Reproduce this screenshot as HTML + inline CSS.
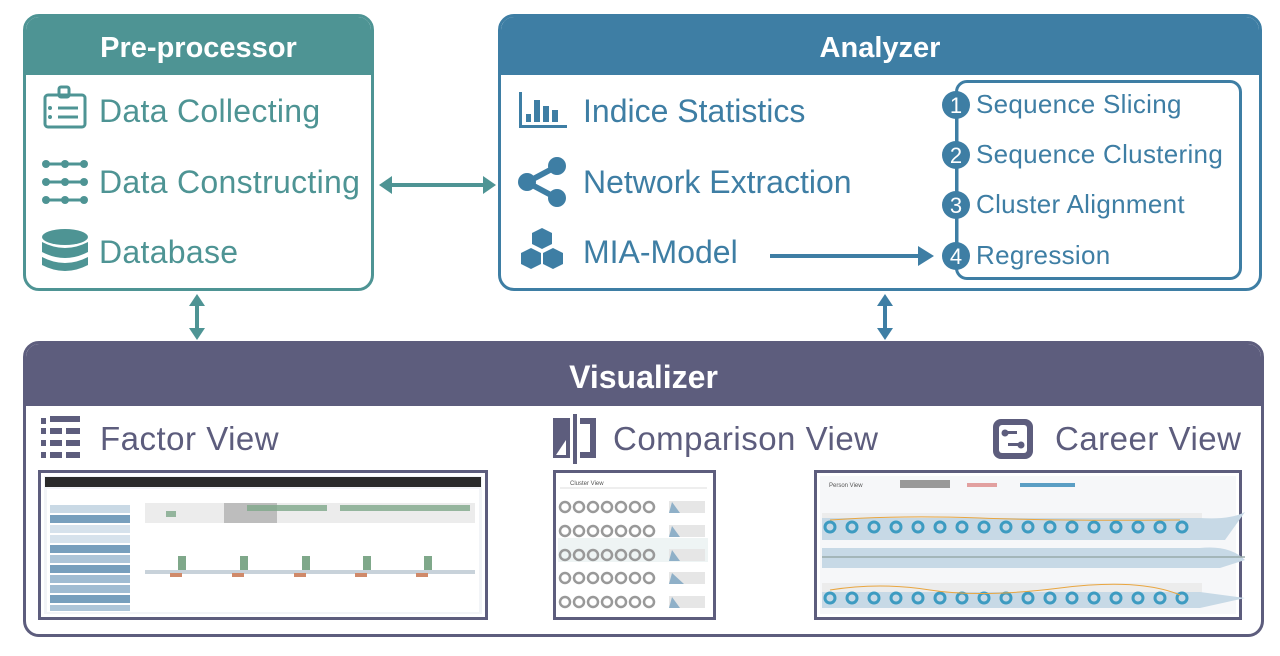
<!DOCTYPE html>
<html><head><meta charset="utf-8"><style>
body{margin:0;width:1280px;height:656px;background:#fff;position:relative;overflow:hidden;font-family:"Liberation Sans",sans-serif}
.box{position:absolute;border:3px solid;border-radius:16px;box-sizing:border-box;overflow:hidden;background:#fff}
.hd{position:absolute;left:0;right:0;top:0;color:#fff;font-weight:bold;text-align:center}
.t{position:absolute;white-space:nowrap}
</style></head><body>

<div class="box" style="left:23px;top:14px;width:351px;height:277px;border-color:#4e9494">
 <div class="hd" style="height:58px;background:#4e9494;font-size:29px;line-height:62px">Pre-processor</div>
</div>
<div class="box" style="left:498px;top:14px;width:764px;height:277px;border-color:#3e7ea4">
 <div class="hd" style="height:58px;background:#3e7ea4;font-size:29px;line-height:62px">Analyzer</div>
</div>
<div style="position:absolute;left:955px;top:80px;width:287px;height:200px;border:3px solid #3e7ea4;border-radius:12px;box-sizing:border-box"></div>
<div class="box" style="left:23px;top:341px;width:1241px;height:296px;border-color:#5d5d7d">
 <div class="hd" style="height:62px;background:#5d5d7d;font-size:32px;line-height:66px">Visualizer</div>
</div>

<div class="t" style="left:99px;top:93px;font-size:32px;color:#4e9494;letter-spacing:0.3px">Data Collecting</div>
<div class="t" style="left:99px;top:164px;font-size:32px;color:#4e9494;letter-spacing:0.3px">Data Constructing</div>
<div class="t" style="left:99px;top:234px;font-size:32px;color:#4e9494;letter-spacing:0.3px">Database</div>

<div class="t" style="left:583px;top:93px;font-size:32px;color:#3e7ea4">Indice Statistics</div>
<div class="t" style="left:583px;top:164px;font-size:32px;color:#3e7ea4">Network Extraction</div>
<div class="t" style="left:583px;top:234px;font-size:32px;color:#3e7ea4">MIA-Model</div>

<div class="t" style="left:976px;top:89px;font-size:26px;color:#3e7ea4;letter-spacing:0.3px">Sequence Slicing</div>
<div class="t" style="left:976px;top:139px;font-size:26px;color:#3e7ea4;letter-spacing:0.3px">Sequence Clustering</div>
<div class="t" style="left:976px;top:189px;font-size:26px;color:#3e7ea4;letter-spacing:0.3px">Cluster Alignment</div>
<div class="t" style="left:976px;top:240px;font-size:26px;color:#3e7ea4;letter-spacing:0.3px">Regression</div>

<div class="t" style="left:100px;top:420px;font-size:33px;color:#5d5d7d;letter-spacing:0.5px">Factor View</div>
<div class="t" style="left:613px;top:420px;font-size:33px;color:#5d5d7d;letter-spacing:0.5px">Comparison View</div>
<div class="t" style="left:1055px;top:420px;font-size:33px;color:#5d5d7d;letter-spacing:0.5px">Career View</div>

<svg width="1280" height="656" style="position:absolute;left:0;top:0" xmlns="http://www.w3.org/2000/svg">
 <g stroke="#4e9494" stroke-width="4" fill="#4e9494">
  <line x1="386" y1="185" x2="488" y2="185"/>
  <path d="M379 185 L392 176 L392 194Z" stroke="none"/><path d="M496 185 L483 176 L483 194Z" stroke="none"/>
  <line x1="197" y1="302" x2="197" y2="331"/>
  <path d="M197 294 L189 306 L205 306Z" stroke="none"/><path d="M197 340 L189 328 L205 328Z" stroke="none"/>
 </g>
 <g stroke="#3e7ea4" stroke-width="4" fill="#3e7ea4">
  <line x1="885" y1="302" x2="885" y2="331"/>
  <path d="M885 294 L877 306 L893 306Z" stroke="none"/><path d="M885 340 L877 328 L893 328Z" stroke="none"/>
  <line x1="770" y1="256" x2="920" y2="256"/>
  <path d="M934 256 L918 246 L918 266Z" stroke="none"/>
  <line x1="957" y1="105" x2="957" y2="256" stroke-width="3"/>
 </g>
 <g fill="#3e7ea4">
  <circle cx="956" cy="105" r="14"/><circle cx="956" cy="155" r="14"/><circle cx="956" cy="205" r="14"/><circle cx="956" cy="256" r="14"/>
 </g>
 <g fill="#fff" font-family="Liberation Sans" font-size="22" text-anchor="middle">
  <text x="956" y="113">1</text><text x="956" y="163">2</text><text x="956" y="213">3</text><text x="956" y="264">4</text>
 </g>
 <g stroke="#4e9494" stroke-width="3" fill="none">
  <rect x="45" y="95" width="40" height="32" rx="3"/>
  <rect x="59" y="87" width="10" height="10" rx="2"/>
  <line x1="58" y1="108" x2="78" y2="108"/><line x1="58" y1="117" x2="78" y2="117"/>
  <line x1="44" y1="164" x2="86" y2="164"/><line x1="44" y1="182" x2="86" y2="182"/><line x1="44" y1="200" x2="86" y2="200"/>
 </g>
 <g fill="#4e9494">
  <circle cx="50" cy="108" r="2"/><circle cx="50" cy="117" r="2"/>
  <circle cx="46" cy="164" r="4"/><circle cx="65" cy="164" r="4"/><circle cx="84" cy="164" r="4"/>
  <circle cx="46" cy="182" r="4"/><circle cx="65" cy="182" r="4"/><circle cx="84" cy="182" r="4"/>
  <circle cx="46" cy="200" r="4"/><circle cx="65" cy="200" r="4"/><circle cx="84" cy="200" r="4"/>
  <ellipse cx="65" cy="237" rx="23" ry="8"/>
  <path d="M42 242 Q65 254 88 242 L88 252 Q65 264 42 252Z"/>
  <path d="M42 257 Q65 269 88 257 L88 265 Q65 277 42 265Z"/>
 </g>
 <g fill="#3e7ea4">
  <rect x="519" y="92" width="3" height="36"/><rect x="519" y="125" width="48" height="3"/>
  <rect x="526" y="114" width="5" height="8"/><rect x="534" y="100" width="6" height="22"/><rect x="543" y="106" width="6" height="16"/><rect x="552" y="110" width="6" height="12"/>
  <circle cx="557" cy="166" r="9"/><circle cx="527" cy="182" r="9"/><circle cx="557" cy="198" r="9"/>
  <path d="M527 179 L557 163 L558 169 L528 185Z M527 179 L557 195 L556 201 L526 185Z"/>
  <path d="M542 228 L552 233 L552 244 L542 249 L532 244 L532 233Z"/>
  <path d="M531 248 L541 253 L541 264 L531 269 L521 264 L521 253Z"/>
  <path d="M553 248 L563 253 L563 264 L553 269 L543 264 L543 253Z"/>
 </g>
 <g fill="#5d5d7d">
  <rect x="41" y="418" width="5" height="6"/><rect x="50" y="416" width="30" height="6"/>
  <rect x="41" y="428" width="5" height="6"/><rect x="50" y="428" width="12" height="6"/><rect x="66" y="428" width="14" height="6"/>
  <rect x="41" y="440" width="5" height="6"/><rect x="50" y="440" width="12" height="6"/><rect x="66" y="440" width="14" height="6"/>
  <rect x="41" y="452" width="5" height="6"/><rect x="50" y="452" width="12" height="6"/><rect x="66" y="452" width="14" height="6"/>
  <path d="M553 418 L570 418 L570 458 L553 458Z"/>
  <path d="M573 414 L577 414 L577 464 L573 464Z"/>
  <path d="M580 418 L596 418 L596 458 L580 458 L580 452 L590 452 L590 424 L580 424Z"/>
  <path d="M556 455 L566 440 L566 455Z" fill="#fff"/>
  <rect x="993" y="419" width="40" height="40" rx="8"/>
  <rect x="999" y="425" width="28" height="28" rx="3" fill="#fff"/>
  <circle cx="1005" cy="433" r="3.5"/><circle cx="1021" cy="445" r="3.5"/>
  <rect x="1005" y="431" width="12" height="3"/><rect x="1008" y="443" width="13" height="3"/>
 </g>

 <rect x="39.5" y="471.5" width="447" height="147" fill="#fff" stroke="#5d5d7d" stroke-width="3"/>
 <rect x="44" y="476" width="438" height="138" fill="#f2f4f7"/>
 <rect x="45" y="477" width="436" height="10" fill="#2a2a2a"/>
 <rect x="47" y="489" width="432" height="123" fill="#fff"/>
 <g fill="#4a7fa8" opacity="0.75">
  <rect x="50" y="505" width="80" height="8" opacity=".4"/><rect x="50" y="515" width="80" height="8"/>
  <rect x="50" y="525" width="80" height="8" opacity=".3"/><rect x="50" y="535" width="80" height="8" opacity=".3"/>
  <rect x="50" y="545" width="80" height="8"/><rect x="50" y="555" width="80" height="8" opacity=".6"/>
  <rect x="50" y="565" width="80" height="8"/><rect x="50" y="575" width="80" height="8" opacity=".7"/>
  <rect x="50" y="585" width="80" height="8" opacity=".7"/><rect x="50" y="595" width="80" height="8"/>
  <rect x="50" y="605" width="80" height="6" opacity=".6"/>
 </g>
 <rect x="145" y="503" width="330" height="20" fill="#ececec"/>
 <rect x="224" y="503" width="53" height="20" fill="#bdbdbd"/>
 <g fill="#7fa88a" opacity=".8">
  <rect x="247" y="505" width="80" height="6"/><rect x="340" y="505" width="130" height="6"/><rect x="166" y="511" width="10" height="6"/>
 </g>
 <rect x="145" y="570" width="330" height="4" fill="#c8d2da"/>
 <g fill="#7fa88a"><rect x="178" y="556" width="8" height="14"/><rect x="240" y="556" width="8" height="14"/><rect x="302" y="556" width="8" height="14"/><rect x="363" y="556" width="8" height="14"/><rect x="424" y="556" width="8" height="14"/></g>
 <g fill="#d08a6a"><rect x="170" y="573" width="12" height="4"/><rect x="232" y="573" width="12" height="4"/><rect x="294" y="573" width="12" height="4"/><rect x="355" y="573" width="12" height="4"/><rect x="416" y="573" width="12" height="4"/></g>

 <rect x="554.5" y="471.5" width="160" height="147" fill="#fff" stroke="#5d5d7d" stroke-width="3"/>
 <line x1="560" y1="488" x2="707" y2="488" stroke="#ddd"/>
 <text x="570" y="485" font-size="6" fill="#555">Cluster View</text>
 <rect x="558" y="538" width="150" height="24" fill="#eef4f4"/>
 <g fill="none" stroke="#999" stroke-width="2.5">
  <g id="row"><circle cx="565" cy="507" r="5"/><circle cx="579" cy="507" r="5"/><circle cx="593" cy="507" r="5"/><circle cx="607" cy="507" r="5"/><circle cx="621" cy="507" r="5"/><circle cx="635" cy="507" r="5"/><circle cx="649" cy="507" r="5"/></g>
  <use href="#row" y="24"/><use href="#row" y="48"/><use href="#row" y="71"/><use href="#row" y="95"/>
 </g>
 <g fill="#e6e6e6"><rect x="669" y="501" width="36" height="12"/><rect x="669" y="525" width="36" height="12"/><rect x="669" y="549" width="36" height="12"/><rect x="669" y="572" width="36" height="12"/><rect x="669" y="596" width="36" height="12"/></g>
 <g fill="#8fb0c8"><path d="M669 513 L672 502 L680 513Z"/><path d="M669 537 L672 526 L680 537Z"/><path d="M669 561 L672 550 L680 561Z"/><path d="M669 584 L672 573 L684 584Z"/><path d="M669 608 L672 597 L680 608Z"/></g>

 <rect x="815.5" y="471.5" width="425" height="147" fill="#fff" stroke="#5d5d7d" stroke-width="3"/>
 <rect x="820" y="476" width="416" height="138" fill="#f6f7f9"/>
 <text x="829" y="487" font-size="6" fill="#555">Person View</text>
 <rect x="900" y="480" width="50" height="8" fill="#999"/><rect x="967" y="483" width="30" height="4" fill="#e2a0a0"/><rect x="1020" y="483" width="55" height="4" fill="#5b9ec4"/>
 <g fill="#ececec"><rect x="822" y="513" width="380" height="20"/><rect x="822" y="583" width="380" height="20"/></g>
 <g fill="#c7d9e6"><path d="M822 518 L1200 518 Q1230 520 1245 512 L1225 540 L822 540Z"/><path d="M822 548 L1200 548 Q1230 545 1245 560 L1220 568 L822 568Z"/><path d="M822 592 L1200 592 L1245 598 L1200 608 L822 608Z"/></g>
 <g fill="none" stroke="#3d9bc1" stroke-width="3">
  <g id="cr"><circle cx="830" cy="527" r="5"/><circle cx="852" cy="527" r="5"/><circle cx="874" cy="527" r="5"/><circle cx="896" cy="527" r="5"/><circle cx="918" cy="527" r="5"/><circle cx="940" cy="527" r="5"/><circle cx="962" cy="527" r="5"/><circle cx="984" cy="527" r="5"/><circle cx="1006" cy="527" r="5"/><circle cx="1028" cy="527" r="5"/><circle cx="1050" cy="527" r="5"/><circle cx="1072" cy="527" r="5"/><circle cx="1094" cy="527" r="5"/><circle cx="1116" cy="527" r="5"/><circle cx="1138" cy="527" r="5"/><circle cx="1160" cy="527" r="5"/><circle cx="1182" cy="527" r="5"/></g>
  <use href="#cr" y="71"/>
 </g>
 <line x1="822" y1="557" x2="1245" y2="557" stroke="#9aa" stroke-width="1.5"/>
 <path d="M830 520 Q900 515 980 518 T1180 520" stroke="#e9a640" fill="none"/>
 <path d="M830 590 Q880 582 930 590 T1060 588 T1180 595" stroke="#e9a640" fill="none"/>
</svg>
</body></html>
